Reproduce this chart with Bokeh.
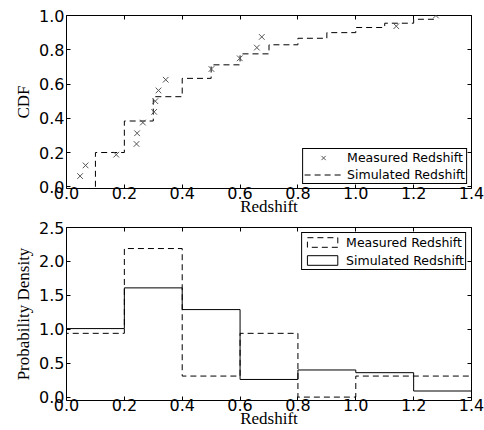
import numpy as np
from bokeh.plotting import figure
from bokeh.layouts import column
from bokeh.models import (LinearAxis, FixedTicker, PrintfTickFormatter,
                          Legend, LegendItem, Range1d)
from bokeh.embed import file_html
from bokeh.resources import INLINE

# ---- data ----
meas_z = [0.047, 0.066, 0.172, 0.242, 0.244, 0.264, 0.303, 0.307, 0.318, 0.343,
          0.501, 0.599, 0.658, 0.675, 1.140, 1.277]
meas_cdf = [0.0625, 0.125, 0.1875, 0.25, 0.3125, 0.375, 0.4375, 0.5, 0.5625, 0.625,
            0.6875, 0.75, 0.8125, 0.875, 0.9375, 1.0]

sim_cdf_z = [0.1, 0.2, 0.3, 0.4, 0.5, 0.6, 0.7, 0.8, 0.9, 1.0, 1.1, 1.2, 1.28]
sim_cdf = [0.0, 0.2, 0.384, 0.526, 0.633, 0.712, 0.776, 0.829, 0.867, 0.90, 0.93, 0.955, 0.978]

bin_edges = [0.0, 0.2, 0.4, 0.6, 0.8, 1.0, 1.2, 1.4]
meas_density = [0.94, 2.19, 0.31, 0.94, 0.0, 0.31, 0.31]
sim_density = [1.01, 1.61, 1.29, 0.26, 0.40, 0.36, 0.09]

x_ticks = [0.0, 0.2, 0.4, 0.6, 0.8, 1.0, 1.2, 1.4]
cdf_ticks = [0.0, 0.2, 0.4, 0.6, 0.8, 1.0]
dens_ticks = [0.0, 0.5, 1.0, 1.5, 2.0, 2.5]

TICK_FONT = "DejaVu Sans"
LABEL_FONT = "Liberation Serif"
DASH = "6 4"


def step_outline(edges, vals):
    xs = np.repeat(np.asarray(edges, float), 2)
    ys = np.concatenate([[0.0], np.repeat(np.asarray(vals, float), 2), [0.0]])
    return xs, ys


def style(p, xt, yt, xlabel, ylabel, xlab_standoff):
    p.xgrid.visible = False
    p.ygrid.visible = False
    p.outline_line_color = "black"
    p.outline_line_width = 1
    p.outline_line_alpha = 1
    p.background_fill_color = "white"
    p.border_fill_color = "white"
    for ax, ticks, lab in ((p.xaxis[0], xt, xlabel), (p.yaxis[0], yt, ylabel)):
        ax.ticker = FixedTicker(ticks=ticks)
        ax.formatter = PrintfTickFormatter(format="%.1f")
        ax.major_tick_in = 4
        ax.major_tick_out = 0
        ax.minor_tick_line_color = None
        ax.axis_line_color = None
        ax.major_tick_line_color = "black"
        ax.major_label_text_font = TICK_FONT
        ax.major_label_text_font_size = "16px"
        ax.major_label_text_color = "black"
        ax.axis_label = lab
        ax.axis_label_text_font = LABEL_FONT
        ax.axis_label_text_font_size = "17px"
        ax.axis_label_text_font_style = "normal"
        ax.axis_label_text_color = "black"
    p.xaxis[0].major_label_standoff = -2
    p.xaxis[0].axis_label_standoff = xlab_standoff
    p.yaxis[0].major_label_standoff = 2
    p.yaxis[0].axis_label_standoff = 3
    # mirrored tick marks on top and right (no labels)
    for place, ticks in (("above", xt), ("right", yt)):
        ax = LinearAxis(ticker=FixedTicker(ticks=ticks),
                        major_tick_in=4, major_tick_out=0,
                        minor_tick_line_color=None, axis_line_color=None,
                        major_label_text_font_size="1px", major_label_text_color=None,
                        major_label_standoff=0, major_tick_line_color="black")
        p.add_layout(ax, place)


# ---- top: CDF ----
p1 = figure(width=484, height=218, output_backend="svg", toolbar_location=None,
            x_range=Range1d(0, 1.4), y_range=Range1d(-0.01, 1.0),
            min_border_left=66, min_border_right=13, min_border_top=15, min_border_bottom=0)
style(p1, x_ticks, cdf_ticks, "Redshift", "CDF", -5)

r_sim = p1.step(x=sim_cdf_z, y=sim_cdf, mode="before", line_color="black",
                line_width=1, line_dash=DASH)
r_meas = p1.scatter(x=meas_z, y=meas_cdf, marker="x", size=8, line_color="#555555",
                    line_width=1)

leg1 = Legend(items=[LegendItem(label="Measured Redshift", renderers=[r_meas]),
                     LegendItem(label="Simulated Redshift", renderers=[r_sim])],
              location="bottom_right", margin=4, padding=1, spacing=2,
              label_height=15, glyph_height=15, glyph_width=38, label_standoff=5,
              label_text_font=TICK_FONT, label_text_font_size="12.5px",
              label_text_color="black", border_line_color="black", border_line_width=1,
              border_line_alpha=1, background_fill_color="white", background_fill_alpha=1)
p1.add_layout(leg1)

# ---- bottom: histogram ----
p2 = figure(width=484, height=212, output_backend="svg", toolbar_location=None,
            x_range=Range1d(0, 1.4), y_range=Range1d(-0.05, 2.5),
            min_border_left=66, min_border_right=13, min_border_top=9, min_border_bottom=0)
style(p2, x_ticks, dens_ticks, "Redshift", "Probability Density", -5)

mx, my = step_outline(bin_edges, meas_density)
sx, sy = step_outline(bin_edges, sim_density)
p2.line(x=mx, y=my, line_color="black", line_width=1, line_dash=DASH)
p2.line(x=sx, y=sy, line_color="black", line_width=1)

# legend proxies (patch-style glyphs)
lm = p2.patch(x=mx, y=my, fill_alpha=0, line_color="black", line_width=1,
              line_dash=DASH, visible=False)
ls = p2.patch(x=sx, y=sy, fill_alpha=0, line_color="black", line_width=1, visible=False)

leg2 = Legend(items=[LegendItem(label="Measured Redshift", renderers=[lm]),
                     LegendItem(label="Simulated Redshift", renderers=[ls])],
              location="top_right", margin=5, padding=1, spacing=2,
              label_height=16, glyph_height=12, glyph_width=38, label_standoff=5,
              label_text_font=TICK_FONT, label_text_font_size="12.5px",
              label_text_color="black", border_line_color="black", border_line_width=1,
              border_line_alpha=1, background_fill_color="white", background_fill_alpha=1)
p2.add_layout(leg2)

layout = column(p1, p2, spacing=0)
open("out.html", "w").write(file_html(layout, INLINE))
